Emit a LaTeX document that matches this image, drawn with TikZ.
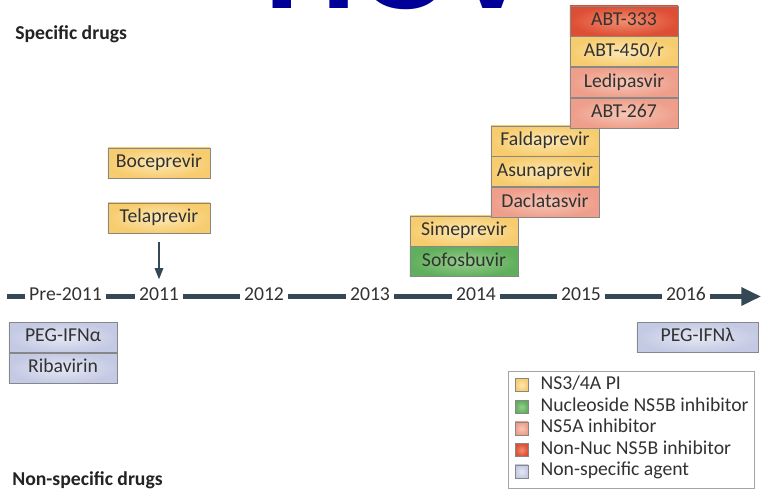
\documentclass[tikz,border=0pt]{standalone}
\usepackage{fontspec}
\setmainfont{Carlito}
\newfontfamily\titlefont{Liberation Sans}
\usepackage{xcolor}
\usetikzlibrary{arrows.meta, positioning}

\definecolor{hcvblue}{RGB}{0,0,153}
\definecolor{lineblue}{RGB}{52,72,86}
\definecolor{drugtext}{RGB}{50,50,50}
\definecolor{headtext}{RGB}{35,35,35}
\definecolor{drugedge}{RGB}{135,135,135}
\definecolor{legedge}{RGB}{165,165,165}
\definecolor{piout}{RGB}{247,204,110}
\definecolor{piin}{RGB}{252,232,182}
\definecolor{nucout}{RGB}{96,175,92}
\definecolor{nucin}{RGB}{152,206,142}
\definecolor{nsaout}{RGB}{238,158,138}
\definecolor{nsain}{RGB}{247,198,182}
\definecolor{nonnucout}{RGB}{222,78,52}
\definecolor{nonnucin}{RGB}{241,142,112}
\definecolor{agentout}{RGB}{196,202,228}
\definecolor{agentin}{RGB}{228,231,243}

\begin{document}
\begin{tikzpicture}[
    x=0.025cm, y=-0.025cm,
    font=\fontsize{14}{16}\selectfont,
    drug/.style={draw=drugedge, line width=0.6pt, rectangle, minimum width=2.7cm, minimum height=0.75cm, inner sep=0pt, text=drugtext, text height=0.63em, text depth=0pt},
    pifill/.style={inner color=piin, outer color=piout},
    nucfill/.style={inner color=nucin, outer color=nucout},
    nsafill/.style={inner color=nsain, outer color=nsaout},
    nonnucfill/.style={inner color=nonnucin, outer color=nonnucout},
    agentfill/.style={inner color=agentin, outer color=agentout},
    year/.style={inner xsep=2.5pt, inner ysep=0pt, text=drugtext, text height=0.63em, text depth=0pt},
    tline/.style={line width=3.2pt, draw=lineblue},
    arr/.style={-{Triangle[length=8pt, width=6pt]}, line width=1.3pt, draw=lineblue},
    key/.style={draw=drugedge, line width=0.5pt, minimum size=0.325cm, inner sep=0pt},
    keytext/.style={inner sep=0pt, text=drugtext, text height=0.63em, text depth=0pt},
    head/.style={anchor=base west, inner sep=0pt, text=headtext, font=\bfseries\fontsize{14}{16}\selectfont}
]
\useasboundingbox (0,0) rectangle (763,491);
\fill[white] (0,0) rectangle (763,491);

\node[anchor=base west, inner sep=0pt, text=hcvblue, font=\titlefont\bfseries\fontsize{91}{100}\selectfont] (title) at (264,9) {HCV};

\node[head] (spec) at (15,40) {Specific drugs};
\node[head] (nonspec) at (12,485) {Non-specific drugs};

% specific drugs
\node[drug, pifill, minimum width=2.55cm] (bocep) at (159,163) {Boceprevir};
\node[drug, pifill, minimum width=2.55cm] (telap) at (159,218) {Telaprevir};

\node[drug, pifill] (simep) at (464,231) {Simeprevir};
\node[drug, nucfill, below=0pt of simep] (sofos) {Sofosbuvir};

\node[drug, pifill] (falda) at (545,141) {Faldaprevir};
\node[drug, pifill, below=0pt of falda] (asuna) {Asunaprevir};
\node[drug, nsafill, below=0pt of asuna] (dacla) {Daclatasvir};

\node[drug, nonnucfill] (abt333) at (624,21) {ABT-333};
\node[drug, pifill, below=0pt of abt333] (abt450) {ABT-450/r};
\node[drug, nsafill, below=0pt of abt450] (ledip) {Ledipasvir};
\node[drug, nsafill, below=0pt of ledip] (abt267) {ABT-267};

% timeline
\coordinate (tstart) at (7,296.5);
\coordinate (tend) at (761,296.5);
\node[year] (ypre) at (65.5,296.5) {Pre-2011};
\node[year] (y2011) at (159,296.5) {2011};
\node[year] (y2012) at (264,296.5) {2012};
\node[year] (y2013) at (370,296.5) {2013};
\node[year] (y2014) at (476,296.5) {2014};
\node[year] (y2015) at (581,296.5) {2015};
\node[year] (y2016) at (686,296.5) {2016};
\draw[tline] (tstart) -- (ypre);
\draw[tline] (ypre) -- (y2011);
\draw[tline] (y2011) -- (y2012);
\draw[tline] (y2012) -- (y2013);
\draw[tline] (y2013) -- (y2014);
\draw[tline] (y2014) -- (y2015);
\draw[tline] (y2015) -- (y2016);
\draw[tline, -{Triangle[length=14pt, width=12.5pt]}] (y2016) -- (tend);

\draw[arr, shorten <=0.225cm, shorten >=0.31cm] (telap.south) -- (y2011.north);

% non-specific drugs
\node[drug, agentfill] (pegalpha) at (63,337.5) {PEG-IFNα};
\node[drug, agentfill, below=0pt of pegalpha] (ribav) {Ribavirin};
\node[drug, agentfill, minimum width=3.025cm] (peglambda) at (697.5,337.5) {PEG-IFNλ};

% legend
\node[draw=legedge, line width=0.6pt, minimum width=6.15cm, minimum height=2.925cm, inner sep=0pt] (legend) at (631,429.5) {};
\node[key, pifill] (keypi) at (521.5,385) {};
\node[keytext, right=0.3cm of keypi] (txtpi) {NS3/4A PI};
\node[key, nucfill] (keynuc) at (521.5,407) {};
\node[keytext, right=0.3cm of keynuc] (txtnuc) {Nucleoside NS5B inhibitor};
\node[key, nsafill] (keynsa) at (521.5,428.5) {};
\node[keytext, right=0.3cm of keynsa] (txtnsa) {NS5A inhibitor};
\node[key, nonnucfill] (keynonnuc) at (521.5,450) {};
\node[keytext, right=0.3cm of keynonnuc] (txtnonnuc) {Non-Nuc NS5B inhibitor};
\node[key, agentfill] (keyagent) at (521.5,471.5) {};
\node[keytext, right=0.3cm of keyagent] (txtagent) {Non-specific agent};

\end{tikzpicture}
\end{document}
